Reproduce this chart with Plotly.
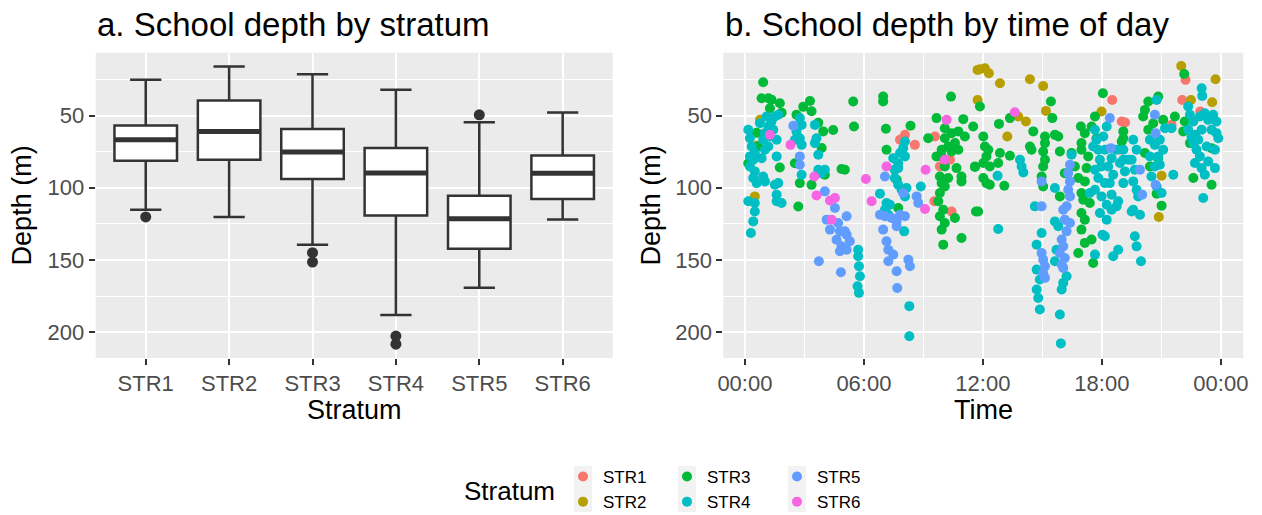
import plotly.graph_objects as go
import pandas as pd

# ---------------- data ----------------
strata = ["STR1", "STR2", "STR3", "STR4", "STR5", "STR6"]
colors = ["#F8766D", "#B79F00", "#00BA38", "#00BFC4", "#619CFF", "#F564E3"]

# panel a: box statistics (depth, m)
box_min = [25.3, 16.1, 21.4, 32.2, 54.6, 47.9]
box_q1 = [56.9, 39.6, 59.4, 72.5, 105.5, 77.6]
box_median = [66.8, 61.0, 75.3, 89.8, 121.4, 90.0]
box_q3 = [81.3, 80.6, 94.0, 119.3, 142.3, 107.8]
box_max = [115.2, 120.2, 139.4, 188.2, 169.3, 122.0]
outlier_stratum = ["STR1", "STR3", "STR3", "STR4", "STR4", "STR5"]
outlier_depth = [120.2, 145.0, 151.5, 202.7, 208.3, 49.5]

# panel b: time of day (hours) and depth (m) per stratum
str1_hour = [7.82, 8.07, 8.57, 9.58, 9.83, 10.34, 10.42, 9.55, 18.52, 19.0, 19.17, 22.22, 22.05, 22.96, 21.51, 18.91]
str1_depth = [66.8, 63.4, 70.3, 64.5, 85.3, 80.6, 116.4, 109.4, 39.2, 54.1, 54.8, 25.3, 39.2, 47.2, 56.5, 73.7]

str2_hour = [0.76, 0.5, 0.59, 11.73, 11.73, 11.85, 12.1, 12.3, 12.86, 14.37, 15.04, 15.18, 13.78, 14.17, 13.23, 17.98,
             22.0, 23.73, 23.56, 22.49, 21.01, 20.87]
str2_depth = [53, 106, 71, 18.4, 39.2, 18.0, 17.3, 20.7, 27.6, 24.9, 29.5, 46.8, 50.7, 54.1, 64.5, 47.2,
              15.7, 24.9, 40.8, 39.2, 91.7, 120.3]

str3_hour = [0.92, 0.84, 1.18, 1.34, 1.76, 1.85, 1.26, 3.28, 2.94, 3.36, 2.6, 3.7, 3.95, 4.45, 3.87, 4.87, 2.52, 2.77,
             3.36, 4.03, 2.69, 1.76, 0.17, 0.67, 0.59,
             5.46, 5.5, 6.97, 6.97, 7.11, 7.14, 8.35, 10.39, 9.66, 11.01, 11.51, 9.24,
             10.08, 10.42, 10.08, 10.59, 9.92, 10.42, 9.92, 9.66, 10.08, 9.83, 10.25, 9.92, 10.08, 9.83, 9.75, 10.0,
             9.83, 10.08, 9.92, 10.0, 10.67, 10.92, 11.6, 11.09, 10.76, 10.92, 11.65, 10.92, 10.59, 10.25, 10.76,
             5.04, 7.56, 7.65, 7.73,
             11.85, 13.36, 12.81, 12.02, 12.1, 12.27, 12.18, 12.02, 12.35, 12.02, 12.18, 12.35, 12.77, 12.86, 13.36,
             13.08, 11.76, 11.6, 15.43, 15.5, 14.54, 14.37, 14.45, 15.13, 15.13, 15.04, 15.13, 15.04, 14.96, 15.04,
             15.63, 15.8, 15.88, 16.13, 15.88, 16.47, 16.64, 16.81, 16.97, 16.97, 17.14, 16.94, 17.48, 17.31, 17.23,
             17.14, 16.97, 17.06, 17.39, 16.97, 17.14, 16.97, 17.14, 17.48, 16.81, 17.56, 18.05, 17.65, 17.73,
             22.15, 20.84, 20.34, 20.17, 20.08, 20.34, 20.59, 21.09, 21.68, 22.18, 22.1, 22.44, 22.61, 23.53, 23.53,
             21.01, 20.76, 19.08, 19.08, 19.0, 20.17, 20.42, 20.84]
str3_depth = [27, 38, 38, 39, 41.5, 48, 45, 40, 44, 47, 49.5, 55, 61, 60, 72.5, 87, 83, 96.8,
              98, 91, 113, 86, 83, 71.4, 62,
              40.3, 57.6, 36.9, 40.3, 59.2, 73.7, 57.1, 36.9, 51.8, 52.5, 57.6, 65.7,
              58.8, 62.2, 65.7, 69.1, 73.7, 74.9, 78.3, 78.3, 85.3, 92.2, 93.3, 96.8, 99.1, 103.7, 109.4, 115.2,
              119.8, 124.4, 129, 139.4, 86.4, 92.2, 85.7, 64.5, 61, 95.6, 116.4, 134.8, 121, 71.4, 73.7,
              87.6, 87.6, 94.5, 114,
              43.8, 51.8, 55.8, 64.5, 71.4, 73.7, 78.3, 82.9, 85.3, 93.3, 96.8, 97.9, 82.9, 76, 77.9,
              98.6, 116.4, 85.3, 40.3, 51.8, 61, 71.4, 73.7, 64.5, 69.1, 74.9, 80.6, 85.3, 92.2, 99.1,
              63.4, 64.5, 74.9, 89.9, 106, 76, 85.3, 93.3, 73.7, 69.1, 62.2, 57.6, 57.6, 78.3, 86.4,
              95.6, 103.7, 108.3, 110.6, 117.5, 122.1, 129, 138.2, 135.9, 145.2, 152.1, 34.6, 50.7, 65.7,
              21.2, 36.9, 40.3, 46.1, 50.7, 59.9, 55.3, 53, 50.7, 54.1, 61, 69.1, 93.3, 72.6, 97.9,
              112.4, 104.1, 61, 65.7, 68, 76, 85.3, 79.5]

str4_hour = [0.17, 0.25, 0.34, 0.5, 0.42, 0.25, 0.5, 0.42, 0.59, 0.25, 0.84, 1.01, 1.18, 0.92, 1.01, 1.18, 1.34, 1.51,
             1.68, 1.43, 1.6, 1.6, 1.01, 0.92, 0.17, 0.5, 0.5, 0.42, 0.3, 1.51, 1.68, 1.6, 1.6, 1.85, 1.09, 0.76, 1.26,
             2.77, 2.86, 2.6, 2.77, 2.52, 2.86, 3.53, 3.61, 3.53, 3.7, 2.86, 3.7, 4.03, 3.87,
             8.07, 7.48, 7.73, 7.56, 7.82, 8.07, 7.98, 7.73, 7.56, 7.73, 7.9, 8.15, 8.07, 6.81, 7.14, 7.06, 7.31, 7.23,
             8.87, 8.03, 5.71, 5.71, 5.75, 5.8, 5.68, 5.75, 8.29, 8.29,
             12.74, 12.77, 13.87, 13.95, 14.04, 16.47, 14.62, 15.63, 15.63, 15.8, 14.96, 14.71, 14.71, 14.87, 14.71,
             14.79, 14.87, 15.71, 15.63, 16.22, 16.05, 15.97, 15.88, 15.93,
             17.65, 17.73, 17.82, 17.9, 17.65, 17.82, 17.65, 17.98, 17.9, 18.24, 17.39, 17.56, 18.07, 17.98, 18.15,
             18.24, 18.03, 17.65, 18.24,
             18.15, 18.49, 18.32, 18.57, 18.4, 18.49, 18.82, 18.49, 18.74, 18.91, 19.08, 19.16, 19.33, 19.08, 19.58,
             19.75, 19.5, 19.66, 19.58, 19.75, 19.83, 19.58, 19.92, 19.5, 19.66, 19.75, 18.82, 18.57, 19.97, 18.15,
             19.08, 18.74,
             20.42, 20.67, 20.92, 21.09, 20.84, 20.42, 20.67, 20.92, 20.5, 21.01, 20.76, 21.51, 21.6, 21.18, 20.76,
             23.03, 23.06,
             22.35, 22.44, 22.61, 22.35, 22.69, 22.94, 23.19, 23.36, 23.61, 23.78, 23.53, 23.78, 23.87, 22.61, 22.77,
             22.94, 22.69, 23.03, 23.19, 23.11, 23.36, 23.7, 23.7, 23.28, 22.52, 23.03, 22.86]
str4_depth = [59.9, 65.7, 71.4, 76, 80.6, 85.3, 88.7, 93.3, 96.8, 78.3, 79.5, 73.7, 71.4, 66.8, 62.2, 57.6, 54.1, 50.7,
              49.5, 59.9, 66.8, 78.3, 95.6, 92.2, 109.4, 110.6, 116.4, 123.3, 131.3, 97.9, 96.8, 104.8, 109.4, 110.6,
              50.7, 55.3, 64.5,
              51.8, 56.5, 61, 65.7, 66.8, 70.3, 56.5, 65.7, 69.1, 77.2, 91, 87.6, 87.6, 89.9,
              68, 79.5, 83, 87.6, 76, 78.3, 72.6, 86.4, 93.3, 97.9, 101.4, 100.2, 106, 104.1, 110.6, 115.2, 111.8, 118.7,
              99.1, 130.2, 142.9, 147.5, 154.4, 161.3, 168.2, 172.8, 182, 202.8,
              91.7, 128.6, 80.6, 85.3, 89.4, 77.2, 112.9, 100.2, 123.3, 126.7, 131.3, 139.4, 156.7, 163.6, 170.5,
              176.3, 184.3, 142.9, 150.9, 161.3, 165.9, 170.5, 187.8, 207.8,
              59.9, 66.8, 73.7, 80.6, 87.6, 93.3, 101.4, 106, 117.5, 111.8, 103.7, 71.4, 64.5, 85.3, 96.8,
              57.6, 132.5, 146.3, 122.1,
              73.7, 79.5, 85.3, 91, 96.8, 104.8, 109.4, 115.2, 112.9, 82.9, 73.7, 88.7, 80.6, 96.8, 66.8,
              73.7, 80.6, 87.6, 95.6, 101.4, 106, 115.2, 118.7, 116.4, 133.6, 140.6, 142.9, 147.5, 150.9, 133.6,
              80.6, 73.7,
              66.8, 70.3, 66.8, 73.7, 78.3, 78.3, 85.3, 84.1, 92.2, 103.7, 99.1, 58.8, 91, 58.8, 39.2,
              31.1, 36.4,
              43.8, 49.5, 54.1, 59.9, 63.4, 50.7, 48.4, 53, 49.5, 54.1, 59.9, 62.2, 65.7, 69.1, 73.7,
              78.3, 82.9, 86.4, 91, 107.1, 81.8, 86.4, 73.7, 71.4, 64.5, 59.9, 66.8]

str5_hour = [2.44, 2.77, 2.77, 4.03, 4.12, 4.29, 4.54, 4.7, 4.79, 4.62, 4.87, 4.79, 5.13, 5.13, 3.73, 4.84,
             7.06, 7.98, 6.81, 7.06, 7.39, 7.65, 7.82, 8.07, 7.65, 6.97, 7.14, 7.23, 7.48, 7.23, 7.65, 7.68, 8.24,
             8.32, 8.66, 8.74, 5.29, 5.13, 5.04,
             14.96, 14.96, 14.96, 15.04, 15.13, 15.04, 15.13, 16.39, 16.3, 16.39, 16.3, 16.39, 16.22, 16.05, 16.13,
             16.39, 16.22, 15.97, 16.05, 15.88, 16.13, 15.97, 16.05,
             18.4, 18.45, 20.67, 20.71, 19.92, 20.03, 20.71]
str5_depth = [57.1, 78.3, 84.1, 102.5, 122.1, 129, 114, 124.4, 130.2, 136, 140.6, 144, 132.5, 119.8, 150.9, 158.5,
              92.2, 103.7, 118.7, 119.8, 121, 123.3, 118.7, 119.8, 126.7, 129, 137.1, 142.9, 146.3, 150.9, 157.8,
              169.4, 149.8, 154.4, 106, 110.6, 137.1, 142.9, 130.2,
              95.6, 112.9, 145.2, 149.8, 154.4, 159, 162.4, 84.1, 89.9, 95.6, 101.4, 106, 112.9, 115.2, 122.1,
              124.4, 130.2, 135.9, 140.6, 145.2, 148.6, 153.2, 155.5,
              51.8, 72.6, 49.5, 62.2, 87.6, 104.8, 97.9]

str6_hour = [1.26, 2.3, 3.5, 3.61, 4.29, 4.54, 4.37, 6.1, 6.39, 7.14, 9.11, 9.08, 10.17, 10.08, 13.61]
str6_depth = [63.4, 70.3, 92.2, 105.3, 108.8, 107.1, 122.1, 94, 109.4, 85.3, 87.6, 114.7, 53, 80.6, 47.7]

time_ticks_hours = [0, 6, 12, 18, 24]

# ---------------- layout helpers ----------------
W, H = 1262, 515


def fx(x):
    return x / W


def fy(y):
    return 1 - y / H


FONT = "Liberation Sans, Arial, sans-serif"
TICK_FONT = dict(family=FONT, size=22, color="#4D4D4D")
DEPTH_RANGE = [217.9, 6.5]
base = pd.Timestamp("2000-01-01")


def to_time(hours):
    return [(base + pd.Timedelta(hours=h)).strftime("%Y-%m-%d %H:%M:%S") for h in hours]


fig = go.Figure()

# panel a
fig.add_trace(go.Box(
    x=strata, q1=box_q1, median=box_median, q3=box_q3,
    lowerfence=box_min, upperfence=box_max,
    fillcolor="white", line=dict(color="#333333", width=2.5),
    width=0.75, boxpoints=False, showlegend=False, hoverinfo="skip",
    xaxis="x", yaxis="y"))
fig.add_trace(go.Scatter(
    x=strata, y=box_median, mode="markers",
    marker=dict(symbol="line-ew", size=45, line=dict(width=5, color="#333333")),
    showlegend=False, hoverinfo="skip", xaxis="x", yaxis="y"))
fig.add_trace(go.Scatter(
    x=outlier_stratum, y=outlier_depth, mode="markers",
    marker=dict(size=11, color="#333333"),
    showlegend=False, hoverinfo="skip", xaxis="x", yaxis="y"))

# panel b
hours = [str1_hour, str2_hour, str3_hour, str4_hour, str5_hour, str6_hour]
depths = [str1_depth, str2_depth, str3_depth, str4_depth, str5_depth, str6_depth]
legend_ids = ["legend", "legend", "legend2", "legend2", "legend3", "legend3"]
for name, col, h, d, lg in zip(strata, colors, hours, depths, legend_ids):
    fig.add_trace(go.Scatter(
        x=to_time(h), y=d, mode="markers", name=name,
        marker=dict(size=10, color=col),
        legend=lg, xaxis="x2", yaxis="y2"))

grid_major = dict(showgrid=True, gridcolor="white", gridwidth=2.2)
tick_style = dict(ticks="outside", ticklen=6, tickwidth=2, tickcolor="#333333",
                  tickfont=TICK_FONT, zeroline=False, showline=False, automargin=False)
y_common = dict(range=DEPTH_RANGE, tickmode="linear", tick0=0, dtick=50,
                minor=dict(tickmode="linear", tick0=0, dtick=25, showgrid=True,
                           gridcolor="white", gridwidth=1.1, ticks=""),
                **grid_major, **tick_style)

legend_common = dict(orientation="v", xanchor="left", yanchor="top", bgcolor="rgba(0,0,0,0)",
                     font=dict(family=FONT, size=17, color="black"), itemclick=False)

fig.update_layout(
    width=W, height=H, margin=dict(l=0, r=0, t=0, b=0, autoexpand=False),
    paper_bgcolor="white", plot_bgcolor="#EBEBEB",
    font=dict(family=FONT),
    xaxis=dict(domain=[fx(95.7), fx(612.7)], type="category", range=[-0.6, 5.6],
               anchor="y", **grid_major, **tick_style),
    yaxis=dict(domain=[fy(358), fy(52.7)], anchor="x", **y_common),
    xaxis2=dict(domain=[fx(723.3), fx(1243.3)], type="date",
                range=to_time([-1.09, 25.13]),
                tickmode="array", tickvals=to_time(time_ticks_hours), tickformat="%H:%M",
                minor=dict(tickmode="linear", tick0=to_time([3])[0], dtick=6 * 3600000, showgrid=True,
                           gridcolor="white", gridwidth=1.1, ticks=""),
                anchor="y2", **grid_major, **tick_style),
    yaxis2=dict(domain=[fy(358), fy(52.7)], anchor="x2", **y_common),
    legend=dict(x=fx(563), y=fy(459), **legend_common),
    legend2=dict(x=fx(667), y=fy(459), **legend_common),
    legend3=dict(x=fx(777), y=fy(459), **legend_common),
    showlegend=True,
)

# legend key backgrounds
for cx in [583, 687, 797]:
    fig.add_shape(type="rect", xref="paper", yref="paper",
                  x0=fx(cx - 9), x1=fx(cx + 9), y0=fy(512), y1=fy(466),
                  fillcolor="#F2F2F2", line=dict(width=0), layer="below")

ann = [
    dict(text="a. School depth by stratum", x=fx(95), y=fy(24), xanchor="left", yanchor="middle",
         font=dict(size=33, color="black", family=FONT)),
    dict(text="b. School depth by time of day", x=fx(723), y=fy(24), xanchor="left", yanchor="middle",
         font=dict(size=33, color="black", family=FONT)),
    dict(text="Stratum", x=fx(354.2), y=fy(410), xanchor="center", yanchor="middle",
         font=dict(size=27, color="black", family=FONT)),
    dict(text="Time", x=fx(983.3), y=fy(410), xanchor="center", yanchor="middle",
         font=dict(size=27, color="black", family=FONT)),
    dict(text="Depth (m)", x=fx(22), y=fy(205.4), xanchor="center", yanchor="middle", textangle=-90,
         font=dict(size=27, color="black", family=FONT)),
    dict(text="Depth (m)", x=fx(651), y=fy(205.4), xanchor="center", yanchor="middle", textangle=-90,
         font=dict(size=27, color="black", family=FONT)),
    dict(text="Stratum", x=fx(462), y=fy(491), xanchor="left", yanchor="middle",
         font=dict(size=26, color="black", family=FONT)),
]
for a in ann:
    a.update(xref="paper", yref="paper", showarrow=False)
    fig.add_annotation(**a)

fig.write_html("out.html", config={"displayModeBar": False})
